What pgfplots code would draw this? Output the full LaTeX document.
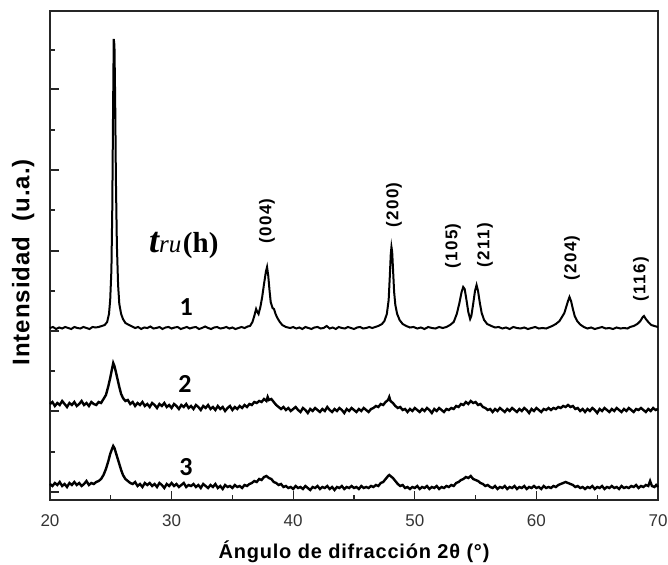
\documentclass[border=0pt]{standalone}
\usepackage{pgfplots}
\pgfplotsset{compat=1.18}
\usepackage{fontspec}
\setmainfont{Liberation Sans}
\newfontfamily\spaced[LetterSpace=4]{Liberation Sans}
\newfontfamily\hklfont[LetterSpace=8]{Liberation Sans}
\newfontfamily\carlito{Carlito}
\newfontfamily\tnr{Liberation Serif}

% y values are heights above the lower axis line
\pgfplotstableread{
x y
20.0 172
20.25 173
20.5 171
20.75 172.5
21.0 171.5
21.25 173
21.5 172
21.75 171
22.0 173
22.25 172
22.5 171.5
22.75 173
23.0 172
23.25 171
23.5 173
23.75 172.5
24.0 173
24.25 174
24.5 175
24.7 178
24.85 186
24.95 200
25.05 230
25.12 290
25.18 380
25.24 461
25.3 455
25.36 400
25.42 320
25.5 255
25.6 215
25.7 196
25.85 186
26.0 181
26.2 177
26.5 175
26.75 173.5
27.0 172
27.25 173
27.5 171
27.75 172.5
28.0 172
28.25 173.5
28.5 171.5
28.75 172
29.0 173
29.25 171
29.5 172.5
29.75 173
30.0 171.5
30.25 172.5
30.5 173
30.75 171
31.0 172
31.25 173
31.5 171.5
31.75 172.5
32.0 173
32.25 171
32.5 172
32.75 173.5
33.0 172
33.25 171
33.5 172.5
33.75 173
34.0 171.5
34.25 172
34.5 173
34.75 171.5
35.0 172.5
35.25 171
35.5 172
35.75 173
36.0 172
36.25 173.5
36.45 174
36.65 178
36.8 184
36.95 191
37.05 188
37.15 186
37.3 193
37.45 203
37.6 216
37.75 228
37.85 233
37.95 224
38.05 210
38.15 198
38.3 192
38.42 191
38.55 186
38.7 182
38.9 178
39.1 175
39.4 173
39.75 172
40.0 173
40.25 171.5
40.5 172.5
40.75 171
41.0 173
41.25 172
41.5 171
41.75 172.5
42.0 173
42.25 171.5
42.5 172
42.75 174
43.0 171.5
43.25 172.5
43.5 171
43.75 173
44.0 172
44.25 171.5
44.5 173
44.75 172
45.0 171
45.25 172.5
45.5 173
45.75 171.5
46.0 172
46.25 173
46.5 172
46.75 173
47.0 174
47.3 176
47.5 179
47.7 186
47.85 200
47.95 225
48.02 245
48.08 253
48.14 248
48.22 228
48.3 208
48.4 195
48.55 186
48.75 180
49.0 176
49.3 174
49.6 172.5
49.9 173
50.2 171.5
50.5 172.5
50.8 171
51.1 173
51.4 172
51.7 171.5
52.0 173
52.3 172
52.6 173
52.9 175
53.2 178
53.45 186
53.65 196
53.85 208
53.98 213
54.1 211
54.25 200
54.4 188
54.55 181
54.65 184
54.8 196
54.95 209
55.08 215
55.2 209
55.35 197
55.5 187
55.7 180
55.95 176
56.3 174
56.6 172.5
56.9 173
57.2 171.5
57.5 172.5
57.8 171
58.1 173
58.4 172
58.7 171.5
59.0 172.5
59.3 171
59.6 172
59.9 173
60.2 171.5
60.5 172
60.8 171.5
61.0 172.5
61.3 174
61.6 176
61.9 179
62.1 183
62.3 187
62.45 193
62.6 199
62.72 203
62.85 199
63.0 191
63.15 184
63.35 179
63.6 175.5
63.9 173
64.2 171.5
64.5 172.5
64.8 171
65.1 172
65.4 173
65.7 171.5
66.0 172
66.3 171
66.6 172.5
66.9 171.5
67.2 172
67.5 171.5
67.7 173
68.0 174
68.3 176
68.55 179
68.75 183
68.85 184
69.0 181
69.2 178
69.45 175
69.7 174
70.0 173
}\curveA

\pgfplotstableread{
x y
20.0 96
20.2 98
20.4 94
20.6 97
20.8 95
21.0 99
21.2 96
21.4 93
21.6 97
21.8 95
22.0 98
22.2 94
22.4 96
22.6 99
22.8 95
23.0 97
23.2 94
23.4 98
23.6 96
23.8 95
24.0 98
24.2 97
24.4 101
24.6 105
24.8 114
24.95 122
25.1 131
25.2 137
25.3 134
25.4 129
25.55 121
25.7 113
25.85 106
26.0 102
26.2 99
26.4 100
26.6 96
26.8 98
27.0 94
27.2 97
27.4 95
27.6 98
27.8 94
28.0 96
28.2 93
28.4 97
28.6 95
28.8 92
29.0 96
29.2 94
29.4 97
29.6 93
29.8 95
30.0 92
30.2 96
30.4 94
30.6 91
30.8 95
31.0 93
31.2 96
31.4 92
31.6 94
31.8 91
32.0 95
32.2 93
32.4 90
32.6 94
32.8 92
33.0 95
33.2 91
33.4 93
33.6 90
33.8 94
34.0 91
34.2 93
34.4 89
34.6 92
34.8 94
35.0 90
35.2 93
35.4 91
35.6 94
35.8 92
36.0 95
36.2 93
36.4 96
36.6 95
36.8 98
37.0 97
37.2 99
37.4 98
37.6 101
37.8 99
37.9 103
38.0 100
38.2 101
38.4 98
38.6 95
38.8 93
39.0 91
39.2 93
39.4 90
39.6 92
39.8 89
40.0 91
40.2 93
40.4 90
40.6 88
40.8 92
41.0 90
41.2 87
41.4 91
41.6 89
41.8 92
42.0 90
42.2 88
42.4 91
42.6 89
42.8 93
43.0 90
43.2 88
43.4 91
43.6 89
43.8 92
44.0 90
44.2 87
44.4 91
44.6 89
44.8 92
45.0 90
45.2 88
45.4 91
45.6 89
45.8 92
46.0 90
46.2 88
46.4 91
46.6 92
46.8 94
47.0 93
47.2 96
47.4 95
47.6 98
47.8 100
47.9 103
48.0 99
48.2 97
48.4 94
48.6 92
48.8 93
49.0 90
49.2 91
49.4 88
49.6 91
49.8 89
50.0 92
50.2 90
50.4 88
50.6 91
50.8 89
51.0 92
51.2 90
51.4 87
51.6 91
51.8 89
52.0 92
52.2 90
52.4 88
52.6 91
52.8 90
53.0 92
53.2 91
53.4 94
53.6 93
53.8 96
54.0 95
54.2 98
54.4 96
54.6 99
54.8 97
55.0 98
55.2 95
55.4 96
55.6 93
55.8 92
56.0 90
56.2 91
56.4 88
56.6 91
56.8 89
57.0 92
57.2 90
57.4 88
57.6 91
57.8 89
58.0 92
58.2 90
58.4 88
58.6 91
58.8 89
59.0 92
59.2 90
59.4 87
59.6 91
59.8 89
60.0 92
60.2 90
60.4 88
60.6 91
60.8 90
61.0 92
61.2 90
61.4 92
61.6 91
61.8 93
62.0 92
62.2 94
62.4 93
62.6 95
62.8 93
63.0 94
63.2 91
63.4 92
63.6 89
63.8 91
64.0 88
64.2 91
64.4 89
64.6 92
64.8 90
65.0 87
65.2 91
65.4 89
65.6 92
65.8 90
66.0 88
66.2 91
66.4 89
66.6 92
66.8 90
67.0 88
67.2 91
67.4 89
67.6 92
67.8 90
68.0 88
68.2 91
68.4 90
68.6 92
68.8 90
69.0 88
69.2 91
69.4 89
69.6 92
69.8 90
70.0 91
}\curveB

\pgfplotstableread{
x y
20.0 16
20.2 14
20.4 17
20.6 15
20.8 18
21.0 14
21.2 16
21.4 13
21.6 17
21.8 15
22.0 18
22.2 15
22.4 17
22.6 14
22.8 16
23.0 19
23.2 15
23.4 17
23.6 16
23.8 18
24.0 19
24.2 21
24.4 25
24.6 31
24.8 39
24.95 46
25.1 51
25.2 54
25.3 52
25.4 48
25.55 42
25.7 36
25.85 30
26.0 25
26.2 21
26.4 19
26.6 17
26.8 16
27.0 18
27.2 14
27.4 16
27.6 13
27.8 17
28.0 15
28.2 17
28.4 14
28.6 16
28.8 13
29.0 17
29.2 15
29.4 12
29.6 16
29.8 14
30.0 17
30.2 14
30.4 16
30.6 13
30.8 15
31.0 17
31.2 13
31.4 15
31.6 14
31.8 16
32.0 13
32.2 15
32.4 12
32.6 16
32.8 14
33.0 12
33.2 15
33.4 13
33.6 16
33.8 12
34.0 14
34.2 11
34.4 15
34.6 13
34.8 14
35.0 12
35.2 15
35.4 13
35.6 14
35.8 12
36.0 15
36.2 14
36.4 16
36.6 17
36.8 19
37.0 18
37.2 21
37.4 20
37.6 23
37.8 24
38.0 22
38.2 21
38.4 18
38.6 17
38.8 15
39.0 16
39.2 13
39.4 14
39.6 12
39.8 13
40.0 11
40.2 14
40.4 12
40.6 13
40.8 11
41.0 14
41.2 12
41.4 10
41.6 13
41.8 12
42.0 14
42.2 11
42.4 13
42.6 12
42.8 14
43.0 11
43.2 13
43.4 10
43.6 13
43.8 12
44.0 14
44.2 11
44.4 13
44.6 12
44.8 14
45.0 12
45.2 13
45.4 11
45.6 14
45.8 12
46.0 13
46.2 12
46.4 14
46.6 13
46.8 15
47.0 14
47.2 17
47.4 18
47.6 21
47.8 24
47.9 25
48.0 24
48.2 22
48.4 19
48.6 16
48.8 14
49.0 15
49.2 12
49.4 13
49.6 11
49.8 13
50.0 12
50.2 14
50.4 11
50.6 13
50.8 12
51.0 14
51.2 11
51.4 13
51.6 12
51.8 14
52.0 11
52.2 13
52.4 12
52.6 14
52.8 13
53.0 15
53.2 14
53.4 17
53.6 18
53.8 20
54.0 21
54.2 23
54.4 22
54.6 24
54.8 21
55.0 20
55.2 19
55.4 17
55.6 16
55.8 14
56.0 15
56.2 13
56.4 12
56.6 14
56.8 11
57.0 13
57.2 12
57.4 14
57.6 11
57.8 13
58.0 12
58.2 14
58.4 11
58.6 13
58.8 12
59.0 14
59.2 11
59.4 13
59.6 12
59.8 14
60.0 12
60.2 13
60.4 11
60.6 14
60.8 12
61.0 13
61.2 12
61.4 14
61.6 13
61.8 15
62.0 16
62.2 17
62.4 18
62.6 17
62.8 16
63.0 15
63.2 13
63.4 14
63.6 12
63.8 13
64.0 11
64.2 13
64.4 12
64.6 14
64.8 11
65.0 13
65.2 12
65.4 14
65.6 11
65.8 13
66.0 12
66.2 14
66.4 12
66.6 13
66.8 11
67.0 14
67.2 12
67.4 13
67.6 12
67.8 14
68.0 13
68.2 15
68.4 12
68.6 14
68.8 13
69.0 15
69.2 14
69.35 19
69.5 14
69.7 13
69.85 15
70.0 13
}\curveC

\begin{document}
\begin{tikzpicture}
\useasboundingbox (0,0) rectangle (668pt,564pt);
\begin{axis}[
    at={(50pt,64pt)}, anchor=south west,
    width=608pt, height=489pt, scale only axis,
    xmin=20, xmax=70, ymin=0, ymax=489,
    xtick={20,30,...,70},
    minor xtick={25,35,...,65},
    ytick={8,89,169,249,330,411},
    minor ytick={48,129,209,290,370,450},
    yticklabels={},
    tick pos=left,
    tick align=inside,
    major tick length=9pt,
    minor tick length=5pt,
    every tick/.style={line width=1.3pt, black!85},
    axis line style={line width=1.7pt, black!85},
    /pgf/number format/assume math mode=true,
    xticklabel style={font=\fontsize{17}{17}\selectfont, text=black!80, yshift=-11pt},
    xlabel={\spaced\bfseries Ángulo de difracción 2θ (°)},
    xlabel style={font=\fontsize{20}{20}\selectfont, at={(axis description cs:0.5,-0.106)}, anchor=center},
    ylabel={\spaced\bfseries Intensidad\ \ (u.a.)},
    ylabel style={font=\fontsize{24}{24}\selectfont, at={(axis description cs:-0.044,0.486)}, anchor=center, rotate=0},
    clip=false,
]
\addplot[black, line width=2pt] table[x=x, y=y] {\curveA};
\addplot[black, line width=2.4pt] table[x=x, y=y] {\curveB};
\addplot[black, line width=2.4pt] table[x=x, y=y] {\curveC};

\begin{scope}[every node/.style={rotate=90, font=\hklfont\bfseries\fontsize{17}{17}\selectfont}]
\node at (axis cs:37.85,279) {(004)};
\node at (axis cs:48.29,295) {(200)};
\node at (axis cs:53.14,254) {(105)};
\node at (axis cs:55.77,255) {(211)};
\node at (axis cs:62.93,242) {(204)};
\node at (axis cs:68.6,221) {(116)};
\end{scope}

\node[font=\carlito\bfseries\fontsize{26}{26}\selectfont] at (axis cs:31.2,193) {1};
\node[font=\carlito\bfseries\fontsize{26}{26}\selectfont] at (axis cs:31.1,116) {2};
\node[font=\carlito\bfseries\fontsize{26}{26}\selectfont] at (axis cs:31.18,33) {3};

\node at (axis cs:31.0,255) {\tnr{\fontsize{36}{36}\selectfont\bfseries\itshape t}{\fontsize{25}{25}\selectfont\itshape ru}\,{\fontsize{29}{29}\selectfont\bfseries (h)}};
\end{axis}
\end{tikzpicture}
\end{document}
